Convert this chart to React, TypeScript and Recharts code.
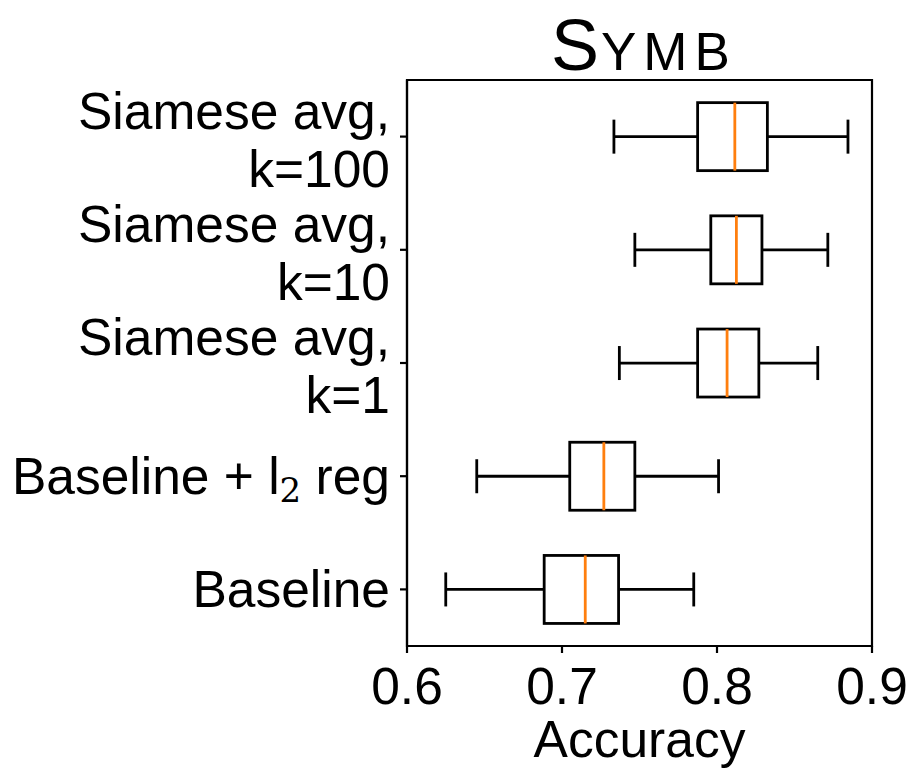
import React from "react";
import {
  ComposedChart,
  Bar,
  XAxis,
  YAxis,
  ReferenceArea,
} from "recharts";

const categories = [
  "Siamese avg,\nk=100",
  "Siamese avg,\nk=10",
  "Siamese avg,\nk=1",
  "Baseline + l₂ reg",
  "Baseline",
];
const whiskerLow = [0.7335, 0.747, 0.737, 0.645, 0.625];
const q1 = [0.7875, 0.796, 0.7875, 0.705, 0.6885];
const median = [0.8115, 0.8125, 0.8065, 0.727, 0.715];
const q3 = [0.8325, 0.829, 0.827, 0.747, 0.7365];
const whiskerHigh = [0.8845, 0.8715, 0.865, 0.801, 0.785];
const xTicks = [0.6, 0.7, 0.8, 0.9];

const data = categories.map((name, i) => ({
  name,
  range: [whiskerLow[i], whiskerHigh[i]],
  low: whiskerLow[i],
  q1: q1[i],
  median: median[i],
  q3: q3[i],
  high: whiskerHigh[i],
}));

const FONT = "'Liberation Sans', Arial, Helvetica, sans-serif";
const FS = 51.5;

const BoxShape = (props: any) => {
  const { x, y, width, height, payload } = props;
  const lo = payload.low;
  const hi = payload.high;
  const px = (v: number) => x + ((v - lo) / (hi - lo)) * width;
  const cy = y + height / 2;
  const capH = height / 2;
  const xl = px(lo);
  const xh = px(hi);
  const xq1 = px(payload.q1);
  const xq3 = px(payload.q3);
  const xm = px(payload.median);
  const sw = 2.8;
  return (
    <g>
      <line x1={xl} y1={cy} x2={xq1} y2={cy} stroke="#000" strokeWidth={sw} />
      <line x1={xq3} y1={cy} x2={xh} y2={cy} stroke="#000" strokeWidth={sw} />
      <line x1={xl} y1={cy - capH / 2} x2={xl} y2={cy + capH / 2} stroke="#000" strokeWidth={sw} />
      <line x1={xh} y1={cy - capH / 2} x2={xh} y2={cy + capH / 2} stroke="#000" strokeWidth={sw} />
      <rect x={xq1} y={y} width={xq3 - xq1} height={height} fill="none" stroke="#000" strokeWidth={sw} />
      <line x1={xm} y1={y} x2={xm} y2={y + height} stroke="#ff7f0e" strokeWidth={sw} />
    </g>
  );
};

const YTick = (props: any) => {
  const { x, y, payload } = props;
  const value = String(payload.value);
  const lines = value.split("\n");
  if (lines.length === 2) {
    return (
      <text textAnchor="end" fontFamily={FONT} fontSize={FS} fill="#000">
        <tspan x={x} y={y - 8}>{lines[0]}</tspan>
        <tspan x={x} y={y + 50}>{lines[1]}</tspan>
      </text>
    );
  }
  if (value.includes("₂")) {
    const [a, b] = value.split("₂");
    return (
      <text x={x} y={y + 18} textAnchor="end" fontFamily={FONT} fontSize={FS} fill="#000">
        {a}
        <tspan style={{ fontFamily: "'DejaVu Serif', 'Liberation Serif', serif" }} fontSize={34} dy={8}>2</tspan>
        <tspan dy={-8}>{b}</tspan>
      </text>
    );
  }
  return (
    <text x={x} y={y + 18} textAnchor="end" fontFamily={FONT} fontSize={FS} fill="#000">
      {value}
    </text>
  );
};

const XTick = (props: any) => {
  const { x, y, payload } = props;
  return (
    <text x={x} y={y + 51} textAnchor="middle" fontFamily={FONT} fontSize={FS} fill="#000">
      {payload.value.toFixed(1)}
    </text>
  );
};

const AxisLabel = (props: any) => {
  const vb = props.viewBox || {};
  const cx = vb.x + vb.width / 2;
  return (
    <text x={cx} y={vb.y + 111} textAnchor="middle" fontFamily={FONT} fontSize={FS} fill="#000">
      Accuracy
    </text>
  );
};

export default function App() {
  return (
    <div style={{ position: "relative", width: 915, height: 774 }}>
      <ComposedChart
        width={915}
        height={774}
        data={data}
        layout="vertical"
        margin={{ top: 72, right: 51, bottom: 0, left: 0 }}
        barCategoryGap="20%"
      >
        <XAxis
          type="number"
          domain={[0.6, 0.9]}
          ticks={xTicks}
          allowDataOverflow
          height={136}
          tickSize={7}
          tickMargin={0}
          tick={<XTick />}
          axisLine={{ stroke: "#000", strokeWidth: 2.2 }}
          tickLine={{ stroke: "#000", strokeWidth: 2.2 }}
          label={<AxisLabel />}
        />
        <YAxis
          type="category"
          dataKey="name"
          width={399}
          tickSize={7}
          tickMargin={10}
          tick={<YTick />}
          interval={0}
          axisLine={{ stroke: "#000", strokeWidth: 2.2 }}
          tickLine={{ stroke: "#000", strokeWidth: 2.2 }}
        />
        <ReferenceArea
          x1={0.6}
          x2={0.9}
          fill="none"
          stroke="#000"
          strokeWidth={2.2}
          fillOpacity={0}
          ifOverflow="visible"
        />
        <Bar dataKey="range" shape={<BoxShape />} isAnimationActive={false} />
      </ComposedChart>
      <svg
        width={915}
        height={100}
        style={{ position: "absolute", left: 0, top: -8, pointerEvents: "none" }}
      >
        <text x={543} y={70} textAnchor="start" fontFamily={FONT} fontSize={72} fill="#000">S</text>
        <text x={593} y={70} textAnchor="start" fontFamily={FONT} fontSize={53} letterSpacing={7} fill="#000">YMB</text>
      </svg>
    </div>
  );
}
